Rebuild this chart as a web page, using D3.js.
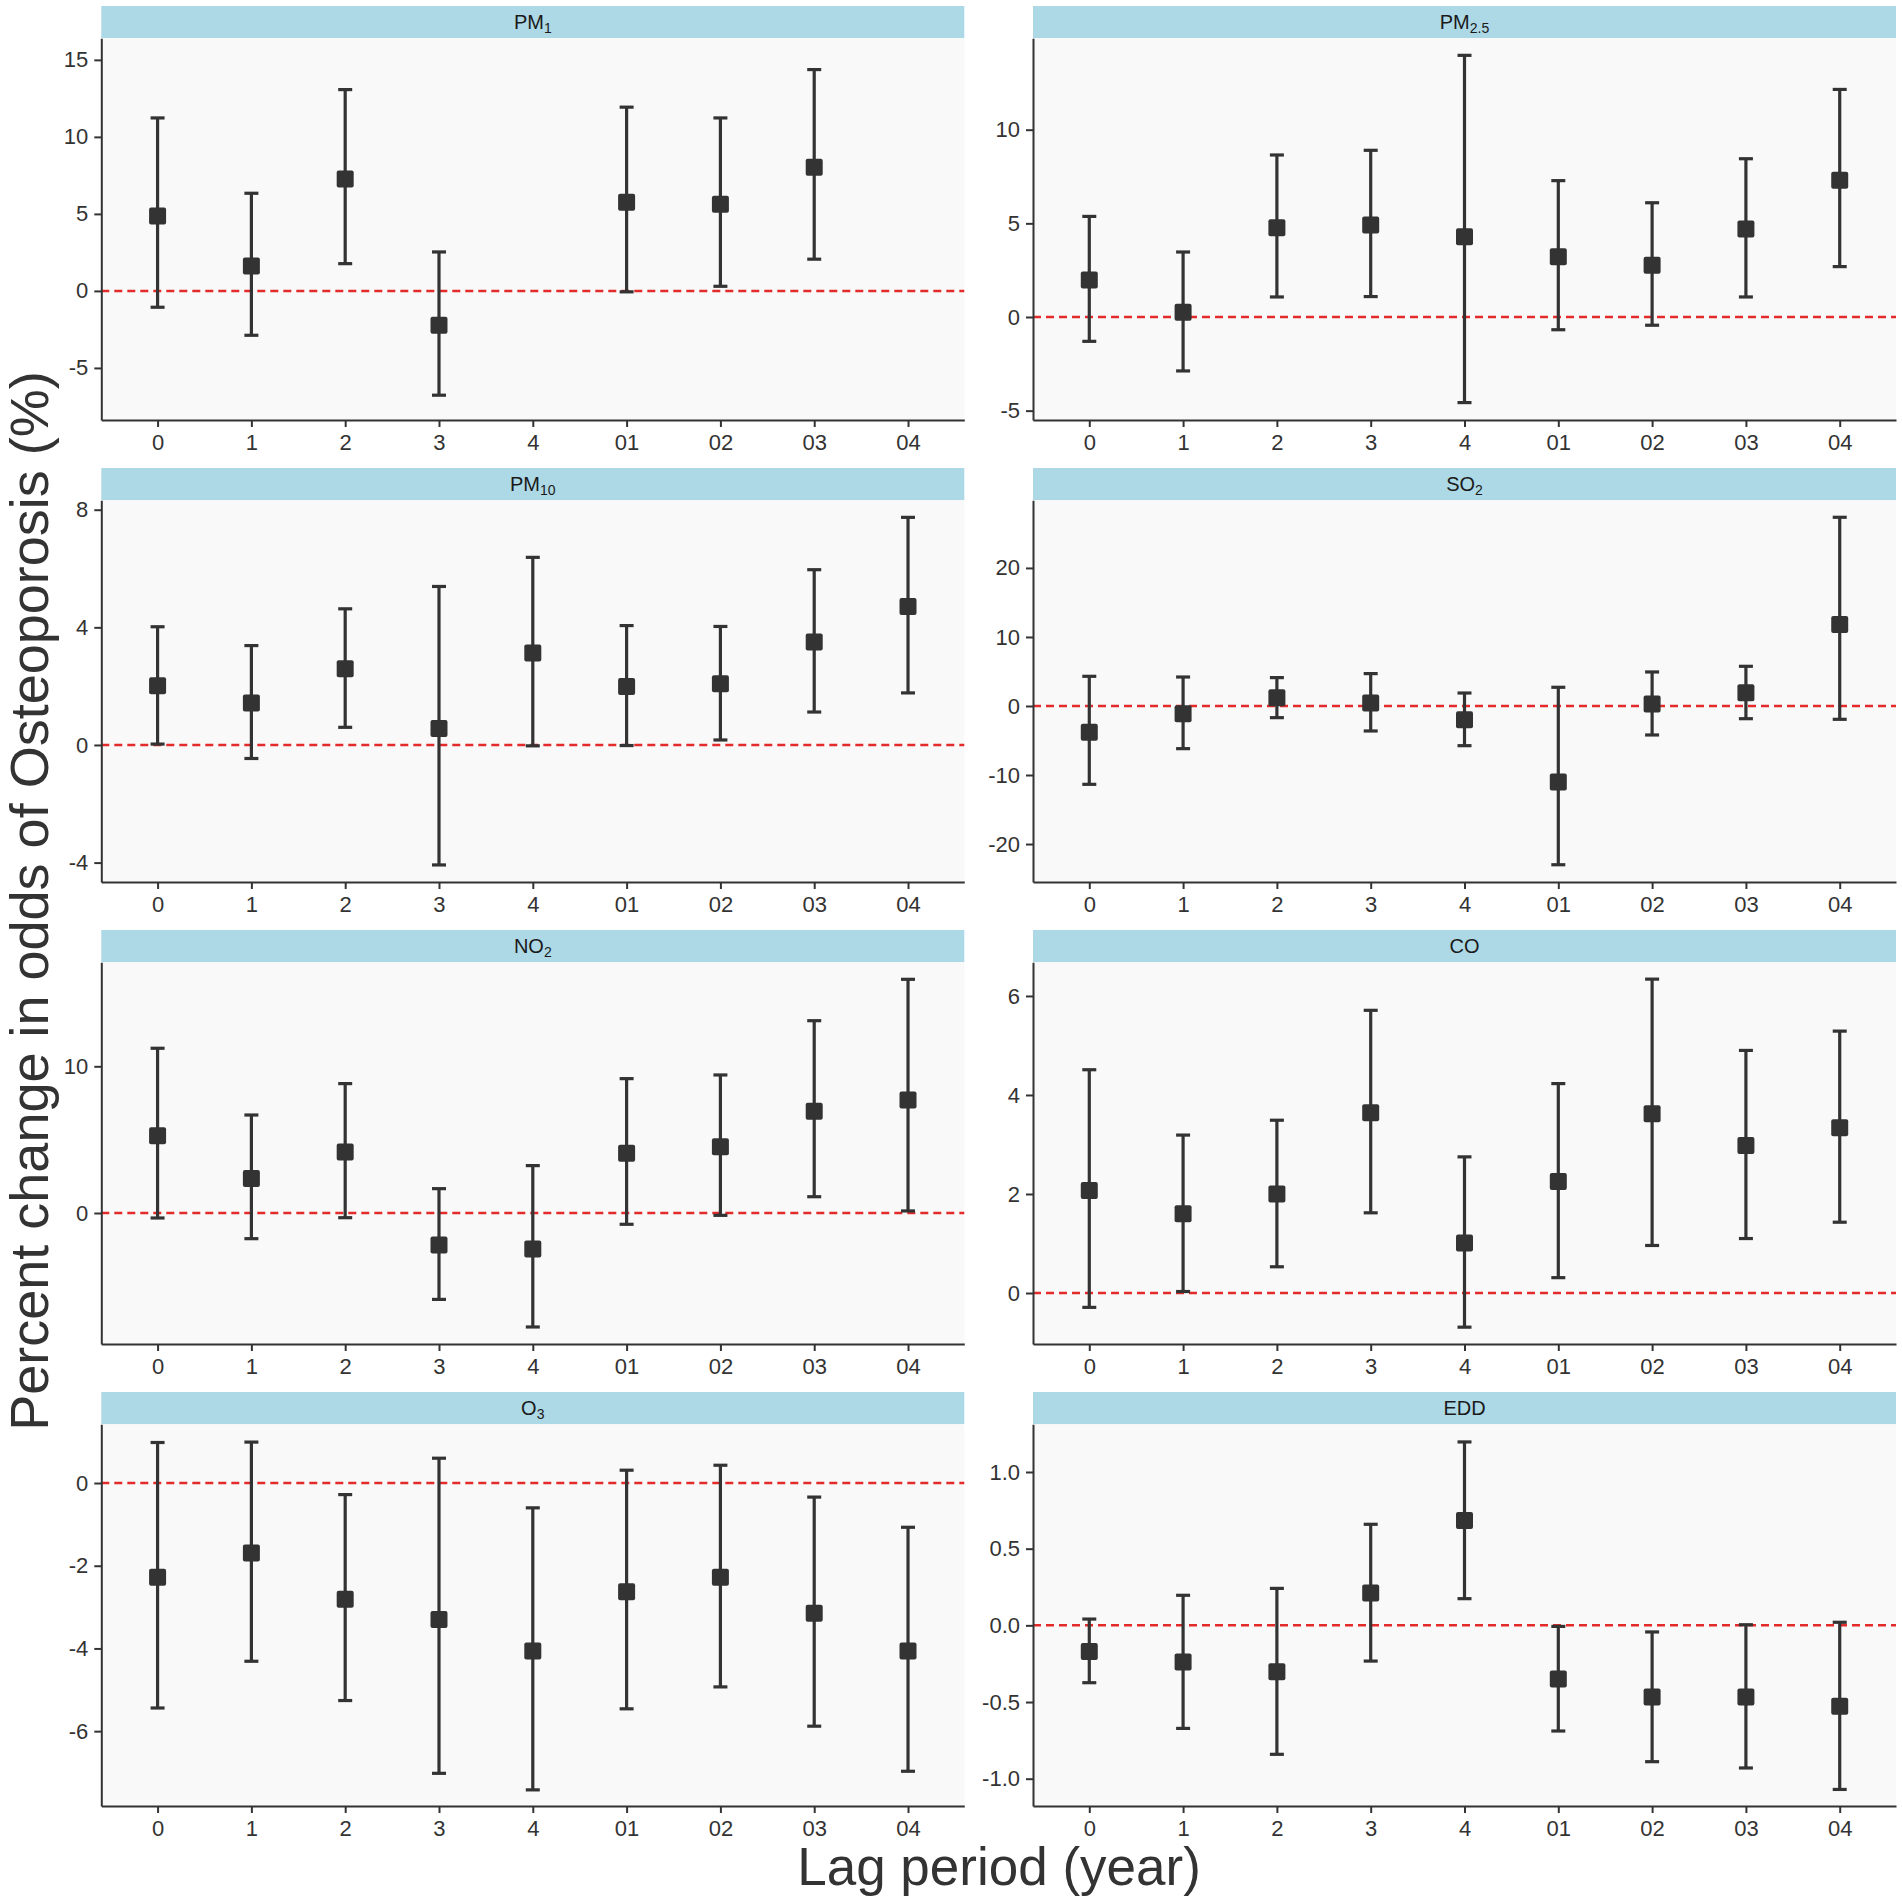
<!DOCTYPE html>
<html>
<head>
<meta charset="utf-8">
<script src="https://cdn.jsdelivr.net/npm/d3@7"></script>
<style>
  body { margin: 0; background: #fff; }
  text { font-family: "Liberation Sans", Arial, sans-serif; }
</style>
</head>
<body>
<svg id="chart" width="1902" height="1903"></svg>
<script>
// Lag categories along the x axis
const lagLabels = ["0", "1", "2", "3", "4", "01", "02", "03", "04"];

// Facet titles: [main text, subscript]
const pollutants = [
    ["PM", "1"], ["PM", "2.5"],
    ["PM", "10"], ["SO", "2"],
    ["NO", "2"], ["CO", ""],
    ["O", "3"], ["EDD", ""]
];

// Point estimates (percent change), one row per pollutant, null = not shown
const estimates = [
    [4.87, 1.62, 7.27, -2.23, null, 5.76, 5.63, 8.03, null],
    [1.98, 0.25, 4.77, 4.91, 4.29, 3.22, 2.76, 4.70, 7.30],
    [2.01, 1.43, 2.59, 0.56, 3.13, 1.99, 2.08, 3.50, 4.71],
    [-3.82, -1.11, 1.21, 0.43, -1.98, -11.01, 0.29, 1.93, 11.79],
    [5.27, 2.36, 4.16, -2.18, -2.45, 4.07, 4.52, 6.93, 7.70],
    [2.07, 1.60, 2.00, 3.64, 1.01, 2.25, 3.62, 2.98, 3.34],
    [-2.28, -1.69, -2.81, -3.30, -4.06, -2.63, -2.28, -3.15, -4.06],
    [-0.170, -0.239, -0.302, 0.211, 0.683, -0.350, -0.467, -0.467, -0.528]
];

// Lower 95% CI
const lowerCI = [
    [-1.06, -2.88, 1.77, -6.77, null, -0.06, 0.30, 2.06, null],
    [-1.30, -2.88, 1.07, 1.09, -4.57, -0.68, -0.44, 1.07, 2.69],
    [0.03, -0.46, 0.60, -4.08, -0.03, -0.02, 0.17, 1.12, 1.77],
    [-11.35, -6.18, -1.69, -3.62, -5.75, -23.0, -4.20, -1.84, -1.93],
    [-0.34, -1.75, -0.32, -5.89, -7.77, -0.77, -0.16, 1.11, 0.14],
    [-0.29, 0.03, 0.53, 1.62, -0.69, 0.31, 0.96, 1.10, 1.43],
    [-5.44, -4.31, -5.26, -7.02, -7.42, -5.46, -4.93, -5.88, -6.97],
    [-0.374, -0.672, -0.841, -0.233, 0.174, -0.689, -0.889, -0.930, -1.070]
];

// Upper 95% CI
const upperCI = [
    [11.23, 6.34, 13.07, 2.53, null, 11.93, 11.23, 14.37, null],
    [5.37, 3.47, 8.65, 8.90, 13.97, 7.28, 6.10, 8.45, 12.15],
    [4.02, 3.38, 4.63, 5.39, 6.38, 4.06, 4.03, 5.96, 7.74],
    [4.30, 4.20, 4.11, 4.69, 1.88, 2.71, 4.93, 5.75, 27.34],
    [11.23, 6.68, 8.82, 1.66, 3.23, 9.16, 9.41, 13.11, 15.93],
    [4.51, 3.19, 3.49, 5.71, 2.75, 4.23, 6.34, 4.90, 5.29],
    [0.98, 0.99, -0.28, 0.60, -0.60, 0.31, 0.43, -0.34, -1.07],
    [0.041, 0.196, 0.241, 0.659, 1.196, -0.007, -0.043, 0.004, 0.020]
];

// y axis limits and tick labels per panel
const yLimits = [
    [-8.38, 16.4], [-5.50, 14.88],
    [-4.66, 8.32], [-25.5, 29.8],
    [-8.93, 17.09], [-1.03, 6.68],
    [-7.81, 1.42], [-1.178, 1.311]
];
const yTicks = [
    [-5, 0, 5, 10, 15], [-5, 0, 5, 10],
    [-4, 0, 4, 8], [-20, -10, 0, 10, 20],
    [0, 10], [0, 2, 4, 6],
    [-6, -4, -2, 0], [-1, -0.5, 0, 0.5, 1]
];

const panelW = 863;
const panelH = 381.7;
const stripH = 32.3;
const colX = [101.3, 1033];
const rowY = 6;
const rowStep = 462;

const svg = d3.select("#chart");

const x = d3.scalePoint()
    .domain(lagLabels)
    .range([0, panelW])
    .padding(0.6);

pollutants.forEach((name, i) => {
    const col = i % 2;
    const row = Math.floor(i / 2);
    const top = rowY + row * rowStep;

    const g = svg.append("g")
        .attr("transform", `translate(${colX[col]},${top})`);

    // strip
    g.append("rect")
        .attr("width", panelW)
        .attr("height", stripH)
        .attr("fill", "#add8e6");

    const label = g.append("text")
        .attr("x", panelW / 2)
        .attr("y", stripH / 2)
        .attr("dy", "0.35em")
        .attr("text-anchor", "middle")
        .style("font-size", "20px")
        .attr("fill", "#1a1a1a");
    label.append("tspan").text(name[0]);
    if (name[1]) {
        label.append("tspan")
            .attr("dy", "0.3em")
            .style("font-size", "14px")
            .text(name[1]);
    }

    const p = g.append("g").attr("transform", `translate(0,${stripH})`);

    p.append("rect")
        .attr("width", panelW)
        .attr("height", panelH)
        .attr("fill", "#f9f9f9");

    const y = d3.scaleLinear()
        .domain(yLimits[i])
        .range([panelH, 0]);

    p.append("line")
        .attr("x1", 0)
        .attr("x2", panelW)
        .attr("y1", y(0))
        .attr("y2", y(0))
        .attr("stroke", "#e32b2b")
        .attr("stroke-width", 2.5)
        .attr("stroke-dasharray", "8,5");

    const data = lagLabels
        .map((lag, j) => ({ lag, est: estimates[i][j], lo: lowerCI[i][j], hi: upperCI[i][j] }))
        .filter(d => d.est !== null);

    const bars = p.selectAll(".err")
        .data(data)
        .enter()
        .append("g")
        .attr("class", "err")
        .attr("stroke", "#333")
        .attr("stroke-width", 3.2);

    bars.append("line")
        .attr("x1", d => x(d.lag))
        .attr("x2", d => x(d.lag))
        .attr("y1", d => y(d.lo))
        .attr("y2", d => y(d.hi));

    bars.append("line")
        .attr("x1", d => x(d.lag) - 7)
        .attr("x2", d => x(d.lag) + 7)
        .attr("y1", d => y(d.hi))
        .attr("y2", d => y(d.hi));

    bars.append("line")
        .attr("x1", d => x(d.lag) - 7)
        .attr("x2", d => x(d.lag) + 7)
        .attr("y1", d => y(d.lo))
        .attr("y2", d => y(d.lo));

    p.selectAll(".pt")
        .data(data)
        .enter()
        .append("rect")
        .attr("class", "pt")
        .attr("x", d => x(d.lag) - 8.5)
        .attr("y", d => y(d.est) - 8.5)
        .attr("width", 17)
        .attr("height", 17)
        .attr("rx", 2)
        .attr("fill", "#333");

    const fmt = i === 7 ? (d => d.toFixed(1)) : (d => String(d));

    const yAxis = p.append("g")
        .call(d3.axisLeft(y).tickValues(yTicks[i]).tickFormat(fmt).tickSize(7).tickSizeOuter(0).tickPadding(6));

    const xAxis = p.append("g")
        .attr("transform", `translate(0,${panelH})`)
        .call(d3.axisBottom(x).tickSize(7).tickSizeOuter(0).tickPadding(7));

    [yAxis, xAxis].forEach(a => {
        a.select(".domain").attr("stroke", "#333").attr("stroke-width", 2);
        a.selectAll(".tick line").attr("stroke", "#333").attr("stroke-width", 2);
        a.selectAll(".tick text")
            .attr("fill", "#333")
            .style("font-size", "22px")
            .style("font-family", "'Liberation Sans', Arial, sans-serif");
    });
});

svg.append("text")
    .attr("x", 999)
    .attr("y", 1885)
    .attr("text-anchor", "middle")
    .style("font-size", "53px")
    .attr("fill", "#333")
    .text("Lag period (year)");

svg.append("text")
    .attr("transform", "translate(48,901) rotate(-90)")
    .attr("text-anchor", "middle")
    .style("font-size", "54px")
    .attr("fill", "#333")
    .text("Percent change in odds of Osteoporosis (%)");
</script>
</body>
</html>
